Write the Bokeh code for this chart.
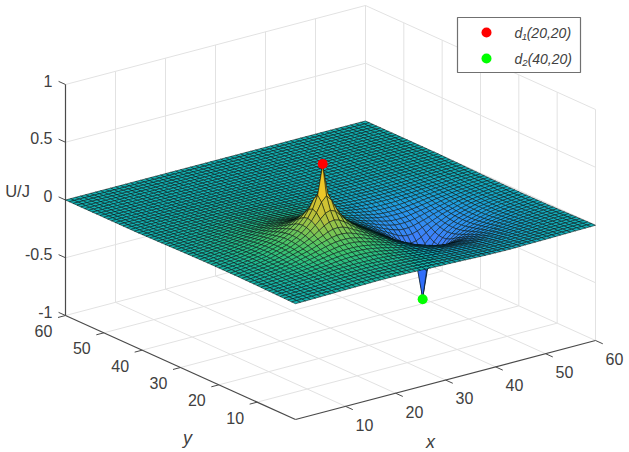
import numpy as np
from bokeh.plotting import figure
from bokeh.models import Range1d
from bokeh.core.properties import value
from bokeh.embed import file_html
from bokeh.resources import INLINE

# Values. The surface is rebuilt from one estimated radial
# profile (distance from a source -> height), applied around both sources.
X_TICKS = [10, 20, 30, 40, 50, 60]
Y_TICKS = [10, 20, 30, 40, 50, 60]
Z_TICKS = [-1, -0.5, 0, 0.5, 1]
Z_LABELS = ["-1", "-0.5", "0", "0.5", "1"]
GRID_N = 60
PROFILE_R = [0, 1, 2, 3, 4, 5, 6, 8, 10, 12, 15, 20, 25, 30, 90]
PROFILE_Z = [0.70, 0.45, 0.34, 0.27, 0.22, 0.18, 0.15, 0.105, 0.075, 0.05, 0.03, 0.012, 0.005, 0.0, 0.0]
D1 = (20, 19)   # where the picture draws d1
D2 = (40, 19)   # where the picture draws d2
D_Z = (0.70, -0.70)
COLOR_Z = [-0.70, -0.25, -0.10, -0.04, 0.0, 0.04, 0.10, 0.20, 0.35, 0.70]
COLOR_R = [48, 62, 40, 26, 18, 34, 62, 118, 196, 240]
COLOR_G = [110, 130, 150, 165, 178, 188, 196, 198, 192, 200]
COLOR_B = [250, 250, 235, 210, 180, 140, 110, 85, 55, 40]
LEGEND = ["d\u2081(20,20)", "d\u2082(40,20)"]

TXT = "#404040"
FONT = value("Liberation Sans")


def proj(x, y, z):
    x, y, z = np.asarray(x, float), np.asarray(y, float), np.asarray(z, float)
    return 295 + 5.0 * x - 3.8333 * y, 419 - 1.3167 * x - 1.7333 * y - (z + 1) * 115.5


p = figure(width=629, height=452, output_backend="svg", toolbar_location=None,
           x_range=Range1d(0, 629), y_range=Range1d(452, 0), min_border=0,
           margin=(0, 0, 0, 0))
p.xaxis.visible = False
p.yaxis.visible = False
p.grid.visible = False
p.outline_line_color = None
p.background_fill_color = "white"

# light grid: floor and the two back walls
gx0, gy0, gx1, gy1 = [], [], [], []


def grid(a, b):
    ax, ay = proj(*a)
    bx, by = proj(*b)
    gx0.append(float(ax)); gy0.append(float(ay)); gx1.append(float(bx)); gy1.append(float(by))


for t in X_TICKS:
    grid((t, 0, -1), (t, 60, -1))
    grid((t, 60, -1), (t, 60, 1))
for t in Y_TICKS:
    grid((0, t, -1), (60, t, -1))
    grid((60, t, -1), (60, t, 1))
grid((60, 0, -1), (60, 0, 1))
for t in Z_TICKS[1:]:
    grid((0, 60, t), (60, 60, t))
    grid((60, 60, t), (60, 0, t))
p.segment(gx0, gy0, gx1, gy1, line_color="#e2e2e2", line_width=1)

# axis lines
ax_pts = [((0, 60, -1), (0, 60, 1)), ((0, 60, -1), (0, 0, -1)), ((0, 0, -1), (60, 0, -1))]
for a, b in ax_pts:
    ax, ay = proj(*a)
    bx, by = proj(*b)
    p.line([float(ax), float(bx)], [float(ay), float(by)], line_color="#4a4a4a", line_width=1.2)

# ticks
tx0, ty0, tx1, ty1 = [], [], [], []


def tick(a, b):
    ax, ay = proj(*a)
    bx, by = proj(*b)
    tx0.append(float(ax)); ty0.append(float(ay)); tx1.append(float(bx)); ty1.append(float(by))


for t in X_TICKS:
    tick((t, 0, -1), (t, -1.9, -1))
for t in Y_TICKS:
    tick((0, t, -1), (-1.5, t, -1))
for t in Z_TICKS:
    tick((0, 60, t), (0, 61.8, t))
p.segment(tx0, ty0, tx1, ty1, line_color="#4a4a4a", line_width=1)

# tick labels
sx, sy = proj(X_TICKS, [0] * 6, [-1] * 6)
p.text(sx + 19, sy + 18.5, text=[str(t) for t in X_TICKS], text_font=FONT, text_font_size="16px",
       text_color=TXT, text_align="center", text_baseline="middle")
sx, sy = proj([0] * 6, Y_TICKS, [-1] * 6)
p.text(sx - 22, sy + 15.5, text=[str(t) for t in Y_TICKS], text_font=FONT, text_font_size="16px",
       text_color=TXT, text_align="center", text_baseline="middle")
sx, sy = proj([0] * 5, [60] * 5, Z_TICKS)
p.text(sx - 13, sy - 4, text=Z_LABELS, text_font=FONT, text_font_size="16px",
       text_color=TXT, text_align="right", text_baseline="middle")

# axis names
p.text([17], [190], text=["U/J"], text_font=FONT, text_font_size="16.5px", text_color=TXT,
       text_align="center", text_baseline="middle")
p.text([187], [437], text=["y"], text_font=FONT, text_font_size="18px", text_font_style="italic",
       text_color=TXT, text_align="center", text_baseline="middle")
p.text([430], [441], text=["x"], text_font=FONT, text_font_size="18px", text_font_style="italic",
       text_color=TXT, text_align="center", text_baseline="middle")

# surface, painted back to front
gx, gy = np.meshgrid(np.arange(GRID_N + 1), np.arange(GRID_N + 1), indexing="ij")
r1 = np.hypot(gx - D1[0], gy - D1[1])
r2 = np.hypot(gx - D2[0], gy - D2[1])
gz = np.interp(r1, PROFILE_R, PROFILE_Z) - np.interp(r2, PROFILE_R, PROFILE_Z)
px, py = proj(gx, gy, gz)


def face_color(z):
    r = np.interp(z, COLOR_Z, COLOR_R)
    g = np.interp(z, COLOR_Z, COLOR_G)
    b = np.interp(z, COLOR_Z, COLOR_B)
    return "#%02x%02x%02x" % (int(r), int(g), int(b))


xs, ys, cs = [], [], []
for j in range(GRID_N - 1, -1, -1):
    for i in range(GRID_N - 1, -1, -1):
        xs.append([float(px[i, j]), float(px[i + 1, j]), float(px[i + 1, j + 1]), float(px[i, j + 1])])
        ys.append([float(py[i, j]), float(py[i + 1, j]), float(py[i + 1, j + 1]), float(py[i, j + 1])])
        zm = max((gz[i, j], gz[i + 1, j], gz[i + 1, j + 1], gz[i, j + 1]), key=abs)
        cs.append(face_color(zm))
p.patches(xs, ys, fill_color=cs, line_color="#041010", line_alpha=0.7, line_width=0.75)

# source markers
dx, dy = proj([D1[0], D2[0]], [D1[1], D2[1]], D_Z)
p.scatter(dx, dy, size=10, fill_color=["#ff0000", "#00ff00"], line_color=None)

# legend
p.quad(left=[457], right=[580], top=[17], bottom=[72], fill_color="white", line_color="#707070", line_width=1.2)
p.scatter([486, 486], [32, 58], size=10, fill_color=["#ff0000", "#00ff00"], line_color=None)
p.text([514, 514], [32, 58], text=LEGEND, text_font=FONT, text_font_size="14px", text_font_style="italic",
       text_color=TXT, text_align="left", text_baseline="middle")

open("out.html", "w").write(file_html(p, INLINE))
